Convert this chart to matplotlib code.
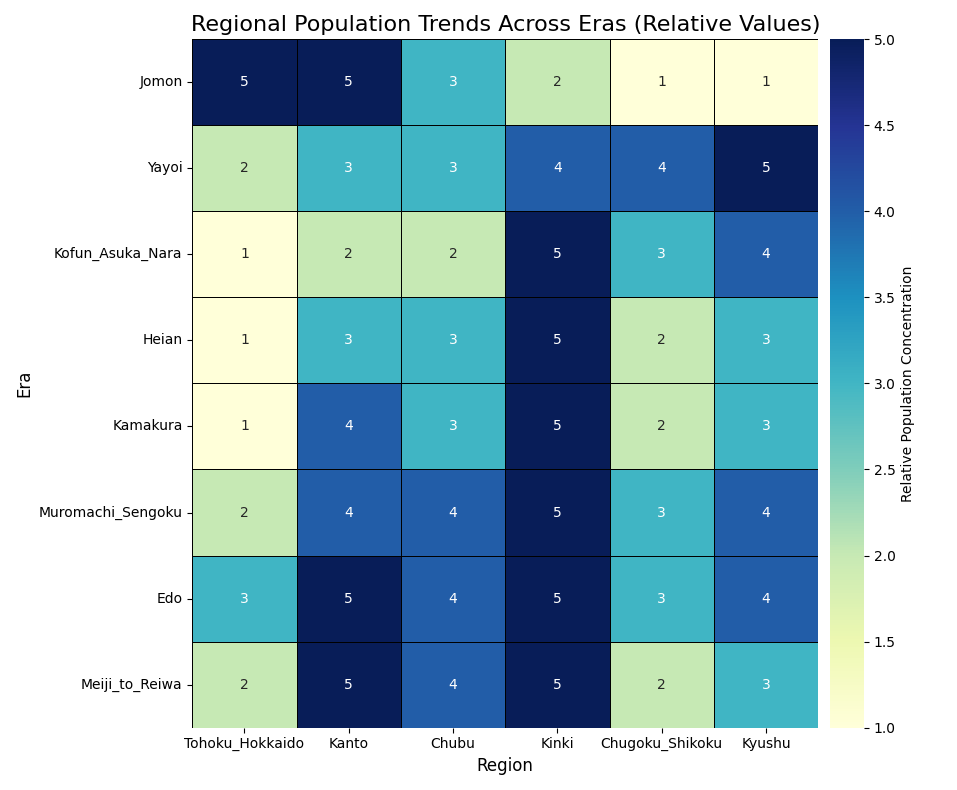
import matplotlib
matplotlib.use("Agg")
import matplotlib.pyplot as plt
import seaborn as sns
import pandas as pd

eras = ["Jomon", "Yayoi", "Kofun_Asuka_Nara", "Heian", "Kamakura",
        "Muromachi_Sengoku", "Edo", "Meiji_to_Reiwa"]
regions = ["Tohoku_Hokkaido", "Kanto", "Chubu", "Kinki", "Chugoku_Shikoku", "Kyushu"]
values = [
    [5, 5, 3, 2, 1, 1],
    [2, 3, 3, 4, 4, 5],
    [1, 2, 2, 5, 3, 4],
    [1, 3, 3, 5, 2, 3],
    [1, 4, 3, 5, 2, 3],
    [2, 4, 4, 5, 3, 4],
    [3, 5, 4, 5, 3, 4],
    [2, 5, 4, 5, 2, 3],
]

df = pd.DataFrame(values, index=eras, columns=regions)

fig, ax = plt.subplots(figsize=(9.57, 7.9), dpi=100)
sns.heatmap(df, annot=True, fmt="d", cmap="YlGnBu", linewidths=0.5,
            linecolor="black", ax=ax,
            cbar_kws={"label": "Relative Population Concentration", "pad": 0.015})
ax.set_title("Regional Population Trends Across Eras (Relative Values)", fontsize=16)
ax.set_xlabel("Region", fontsize=12)
ax.set_ylabel("Era", fontsize=12)
plt.xticks(rotation=0)
plt.yticks(rotation=0)
plt.tight_layout()
plt.savefig("out.png")
